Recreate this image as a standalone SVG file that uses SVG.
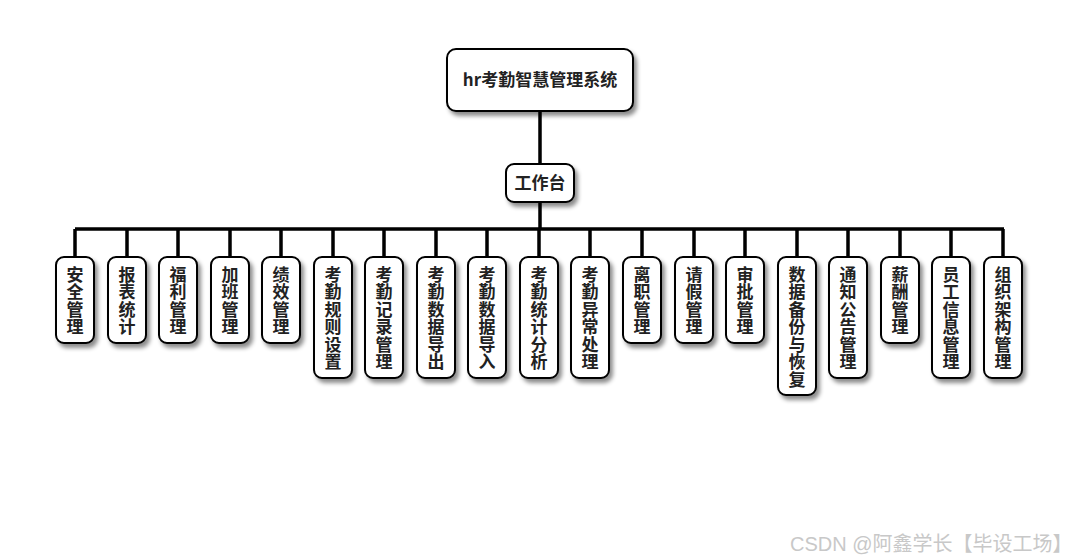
<svg xmlns="http://www.w3.org/2000/svg" width="1080" height="560" viewBox="0 0 1080 560">
<defs>
<filter id="sh" x="-30%" y="-30%" width="160%" height="160%">
<feDropShadow dx="3" dy="4" stdDeviation="2" flood-color="#000" flood-opacity="0.45"/>
</filter>
<style>
.box{fill:#fff;stroke:#000;stroke-width:2;filter:url(#sh)}
.t{font-family:"Noto Sans CJK SC","Liberation Sans",sans-serif;font-weight:bold;font-size:17px;fill:#222;text-anchor:middle}
.v{font-family:"Noto Sans CJK SC",sans-serif;font-weight:bold;font-size:17px;fill:#222;writing-mode:vertical-rl;text-orientation:upright;letter-spacing:0.5px}
.ln{stroke:#000;stroke-width:3.5;fill:none}
.wm{font-family:"Liberation Sans","Noto Sans CJK SC",sans-serif;font-size:20px;fill:#c8c8c8}
</style>
</defs>
<rect width="1080" height="560" fill="#fff"/>
<g id="connectors">
<path class="ln" d="M540 111V164M540 202V229M75 229H1004M75 229V257M127 229V257M178 229V257M230 229V257M281 229V257M333 229V257M384 229V257M436 229V257M487 229V257M539 229V257M590 229V257M642 229V257M694 229V257M745 229V257M797 229V257M848 229V257M900 229V257M951 229V257M1003 229V257"/>
</g>
<g id="root"><rect class="box" x="447" y="49" width="186" height="62" rx="9"/><text class="t" x="540" y="86">hr考勤智慧管理系统</text></g>
<g id="gzt"><rect class="box" x="506" y="164" width="68" height="38" rx="8"/><text class="t" x="540" y="189">工作台</text></g>
<g id="n1"><rect class="box" x="56" y="257" width="38" height="86" rx="8"/><text class="v" x="75" y="266">安全管理</text></g>
<g id="n2"><rect class="box" x="108" y="257" width="38" height="86" rx="8"/><text class="v" x="127" y="266">报表统计</text></g>
<g id="n3"><rect class="box" x="159" y="257" width="38" height="86" rx="8"/><text class="v" x="178" y="266">福利管理</text></g>
<g id="n4"><rect class="box" x="211" y="257" width="38" height="86" rx="8"/><text class="v" x="230" y="266">加班管理</text></g>
<g id="n5"><rect class="box" x="262" y="257" width="38" height="86" rx="8"/><text class="v" x="281" y="266">绩效管理</text></g>
<g id="n6"><rect class="box" x="314" y="257" width="38" height="121" rx="8"/><text class="v" x="333" y="266">考勤规则设置</text></g>
<g id="n7"><rect class="box" x="365" y="257" width="38" height="121" rx="8"/><text class="v" x="384" y="266">考勤记录管理</text></g>
<g id="n8"><rect class="box" x="417" y="257" width="38" height="121" rx="8"/><text class="v" x="436" y="266">考勤数据导出</text></g>
<g id="n9"><rect class="box" x="468" y="257" width="38" height="121" rx="8"/><text class="v" x="487" y="266">考勤数据导入</text></g>
<g id="n10"><rect class="box" x="520" y="257" width="38" height="121" rx="8"/><text class="v" x="539" y="266">考勤统计分析</text></g>
<g id="n11"><rect class="box" x="571" y="257" width="38" height="121" rx="8"/><text class="v" x="590" y="266">考勤异常处理</text></g>
<g id="n12"><rect class="box" x="623" y="257" width="38" height="86" rx="8"/><text class="v" x="642" y="266">离职管理</text></g>
<g id="n13"><rect class="box" x="675" y="257" width="38" height="86" rx="8"/><text class="v" x="694" y="266">请假管理</text></g>
<g id="n14"><rect class="box" x="726" y="257" width="38" height="86" rx="8"/><text class="v" x="745" y="266">审批管理</text></g>
<g id="n15"><rect class="box" x="778" y="257" width="38" height="138" rx="8"/><text class="v" x="797" y="266">数据备份与恢复</text></g>
<g id="n16"><rect class="box" x="829" y="257" width="38" height="121" rx="8"/><text class="v" x="848" y="266">通知公告管理</text></g>
<g id="n17"><rect class="box" x="881" y="257" width="38" height="86" rx="8"/><text class="v" x="900" y="266">薪酬管理</text></g>
<g id="n18"><rect class="box" x="932" y="257" width="38" height="121" rx="8"/><text class="v" x="951" y="266">员工信息管理</text></g>
<g id="n19"><rect class="box" x="984" y="257" width="38" height="121" rx="8"/><text class="v" x="1003" y="266">组织架构管理</text></g>
<text class="wm" x="790" y="551">CSDN @阿鑫学长【毕设工场】</text>
</svg>
